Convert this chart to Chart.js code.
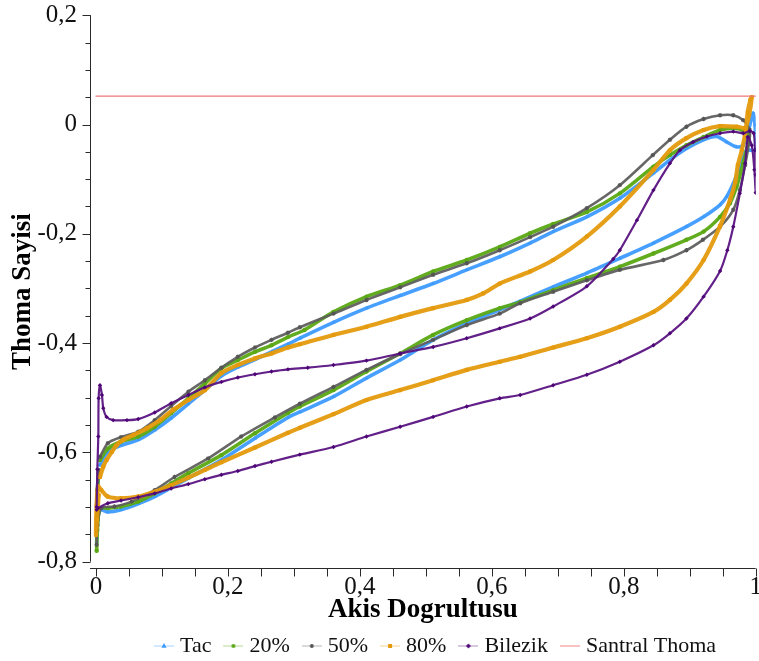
<!DOCTYPE html>
<html>
<head>
<meta charset="utf-8">
<script src="https://cdn.jsdelivr.net/npm/chart.js@4.4.1/dist/chart.umd.min.js"></script>
<style>
  html, body { margin: 0; padding: 0; background: #ffffff; }
  canvas { display: block; }
</style>
</head>
<body>
<canvas id="chart" width="759" height="661"></canvas>
<script>
// Series labels and axis tick values
const seriesNames = ['Tac', '20%', '50%', '80%', 'Bilezik', 'Santral Thoma'];
const xTicks = [0, 0.2, 0.4, 0.6, 0.8, 1];
const yTicks = [0.2, 0, -0.2, -0.4, -0.6, -0.8];

// Each blade section: upper side from leading to trailing edge, lower side back again
const tacUpper = [[0.006,-0.623],[0.018,-0.599],[0.038,-0.587],[0.064,-0.577],[0.089,-0.559],[0.114,-0.537],[0.140,-0.511],[0.165,-0.486],[0.190,-0.460],[0.215,-0.444],[0.241,-0.430],[0.266,-0.416],[0.291,-0.402],[0.309,-0.391],[0.360,-0.362],[0.410,-0.336],[0.461,-0.313],[0.511,-0.291],[0.562,-0.266],[0.612,-0.242],[0.658,-0.217],[0.693,-0.196],[0.744,-0.169],[0.794,-0.135],[0.845,-0.089],[0.870,-0.065],[0.895,-0.044],[0.921,-0.028],[0.941,-0.022],[0.956,-0.032],[0.971,-0.041],[0.981,-0.038],[0.990,-0.006],[0.996,0.021],[0.999,-0.001],[1.000,-0.047]];
const tacLower = [[0.986,-0.047],[0.976,-0.077],[0.966,-0.108],[0.956,-0.132],[0.946,-0.147],[0.921,-0.169],[0.895,-0.187],[0.845,-0.217],[0.794,-0.245],[0.744,-0.272],[0.693,-0.297],[0.643,-0.323],[0.612,-0.339],[0.562,-0.364],[0.511,-0.394],[0.461,-0.431],[0.410,-0.464],[0.360,-0.498],[0.309,-0.526],[0.291,-0.536],[0.241,-0.574],[0.190,-0.614],[0.140,-0.647],[0.089,-0.681],[0.064,-0.694],[0.038,-0.705],[0.018,-0.709],[0.006,-0.705],[0.002,-0.733],[0.001,-0.763],[0.0015,-0.723],[0.002,-0.669],[0.004,-0.636]];

const p20Upper = [[0.006,-0.614],[0.018,-0.593],[0.038,-0.580],[0.064,-0.571],[0.089,-0.553],[0.114,-0.528],[0.140,-0.501],[0.165,-0.474],[0.190,-0.446],[0.215,-0.431],[0.241,-0.416],[0.266,-0.404],[0.291,-0.389],[0.316,-0.376],[0.360,-0.343],[0.410,-0.315],[0.461,-0.294],[0.511,-0.269],[0.562,-0.248],[0.612,-0.224],[0.658,-0.199],[0.693,-0.182],[0.744,-0.160],[0.794,-0.126],[0.845,-0.077],[0.870,-0.056],[0.895,-0.038],[0.921,-0.023],[0.946,-0.010],[0.971,-0.007],[0.984,-0.014],[0.990,-0.021]];
const p20Lower = [[0.989,-0.032],[0.981,-0.071],[0.971,-0.114],[0.961,-0.144],[0.946,-0.169],[0.921,-0.196],[0.895,-0.211],[0.845,-0.236],[0.794,-0.260],[0.744,-0.281],[0.693,-0.303],[0.643,-0.325],[0.612,-0.336],[0.562,-0.358],[0.511,-0.385],[0.461,-0.419],[0.410,-0.452],[0.360,-0.486],[0.309,-0.516],[0.291,-0.528],[0.241,-0.565],[0.190,-0.605],[0.140,-0.638],[0.114,-0.657],[0.089,-0.675],[0.064,-0.690],[0.038,-0.699],[0.018,-0.702],[0.006,-0.702],[0.002,-0.742],[0.001,-0.780],[0.0015,-0.733],[0.002,-0.678],[0.004,-0.637]];

const p50Upper = [[0.006,-0.608],[0.018,-0.583],[0.038,-0.572],[0.064,-0.562],[0.089,-0.541],[0.114,-0.515],[0.140,-0.489],[0.165,-0.468],[0.190,-0.445],[0.215,-0.425],[0.241,-0.408],[0.266,-0.394],[0.291,-0.381],[0.309,-0.371],[0.360,-0.346],[0.410,-0.321],[0.461,-0.298],[0.511,-0.275],[0.562,-0.254],[0.612,-0.230],[0.658,-0.206],[0.693,-0.187],[0.744,-0.153],[0.794,-0.111],[0.844,-0.056],[0.870,-0.028],[0.895,-0.004],[0.921,0.010],[0.946,0.017],[0.966,0.017],[0.981,0.008],[0.991,-0.010]];
const p50Lower = [[0.990,-0.032],[0.984,-0.074],[0.976,-0.120],[0.966,-0.156],[0.946,-0.187],[0.920,-0.211],[0.895,-0.230],[0.860,-0.248],[0.794,-0.266],[0.744,-0.285],[0.693,-0.306],[0.643,-0.327],[0.612,-0.346],[0.562,-0.367],[0.511,-0.394],[0.461,-0.420],[0.410,-0.449],[0.360,-0.480],[0.309,-0.511],[0.271,-0.536],[0.220,-0.571],[0.170,-0.611],[0.119,-0.645],[0.089,-0.669],[0.054,-0.690],[0.028,-0.699],[0.008,-0.702],[0.002,-0.733],[0.001,-0.769],[0.0015,-0.723],[0.002,-0.669],[0.004,-0.632]];

const p80Upper = [[0.006,-0.645],[0.011,-0.626],[0.016,-0.614],[0.024,-0.599],[0.031,-0.587],[0.041,-0.577],[0.057,-0.568],[0.077,-0.556],[0.097,-0.541],[0.117,-0.522],[0.140,-0.504],[0.165,-0.486],[0.190,-0.455],[0.215,-0.440],[0.241,-0.428],[0.266,-0.419],[0.291,-0.408],[0.309,-0.402],[0.360,-0.385],[0.410,-0.370],[0.461,-0.352],[0.511,-0.336],[0.562,-0.321],[0.587,-0.309],[0.612,-0.291],[0.658,-0.269],[0.693,-0.248],[0.744,-0.205],[0.794,-0.150],[0.845,-0.083],[0.870,-0.047],[0.895,-0.025],[0.921,-0.010],[0.946,-0.003],[0.971,-0.004],[0.984,-0.006],[0.990,0.017],[0.994,0.050]];
const p80Lower = [[0.992,0.045],[0.988,0.023],[0.985,-0.010],[0.979,-0.047],[0.973,-0.074],[0.969,-0.105],[0.961,-0.138],[0.946,-0.186],[0.921,-0.248],[0.895,-0.291],[0.870,-0.321],[0.845,-0.343],[0.794,-0.370],[0.744,-0.391],[0.693,-0.408],[0.643,-0.425],[0.612,-0.434],[0.562,-0.449],[0.511,-0.468],[0.461,-0.486],[0.410,-0.504],[0.360,-0.530],[0.309,-0.555],[0.291,-0.564],[0.241,-0.591],[0.190,-0.618],[0.165,-0.632],[0.140,-0.646],[0.114,-0.660],[0.089,-0.672],[0.064,-0.681],[0.038,-0.684],[0.018,-0.681],[0.008,-0.669],[0.003,-0.662],[0.001,-0.696],[0.000,-0.751],[0.0015,-0.723],[0.004,-0.678]];

const bilezikUpper = [[0.001,-0.700],[0.002,-0.631],[0.0035,-0.571],[0.004,-0.501],[0.006,-0.477],[0.009,-0.495],[0.011,-0.519],[0.016,-0.535],[0.026,-0.541],[0.047,-0.541],[0.064,-0.539],[0.089,-0.527],[0.114,-0.510],[0.140,-0.495],[0.165,-0.481],[0.190,-0.471],[0.215,-0.463],[0.241,-0.457],[0.266,-0.452],[0.291,-0.448],[0.321,-0.445],[0.360,-0.440],[0.410,-0.432],[0.461,-0.419],[0.511,-0.407],[0.562,-0.391],[0.612,-0.373],[0.658,-0.355],[0.693,-0.333],[0.744,-0.296],[0.784,-0.246],[0.794,-0.230],[0.820,-0.175],[0.845,-0.120],[0.870,-0.071],[0.885,-0.047],[0.905,-0.032],[0.926,-0.022],[0.946,-0.016],[0.966,-0.013],[0.981,-0.016],[0.991,-0.012],[0.997,-0.016],[0.999,-0.047],[1.000,-0.092],[1.000,-0.125],[0.998,-0.083],[0.994,-0.038]];
const bilezikLower = [[0.988,-0.023],[0.984,-0.071],[0.976,-0.126],[0.966,-0.187],[0.957,-0.230],[0.946,-0.268],[0.921,-0.315],[0.895,-0.355],[0.870,-0.382],[0.845,-0.404],[0.794,-0.434],[0.744,-0.458],[0.693,-0.477],[0.643,-0.495],[0.612,-0.501],[0.562,-0.516],[0.511,-0.535],[0.461,-0.553],[0.410,-0.571],[0.360,-0.590],[0.309,-0.604],[0.266,-0.617],[0.241,-0.625],[0.215,-0.634],[0.190,-0.641],[0.165,-0.649],[0.140,-0.658],[0.114,-0.666],[0.089,-0.675],[0.064,-0.682],[0.038,-0.688],[0.018,-0.693],[0.003,-0.702],[0.001,-0.705]];

const santralThoma = [[0, 0.052], [1, 0.052]];

const fontFamily = "'Liberation Serif', 'Times New Roman', Times, serif";
const toPoints = arr => arr.map(([x, y]) => ({ x, y }));
const fmtTick = v => (v === 0 ? '0' : String(Math.round(v * 10) / 10).replace('.', ','));

// Series appearance
const styles = [
  { color: '#3d9bff', line: 'rgba(61,155,255,0.95)', width: 3.6, point: 'triangle', radius: 2.4 },
  { color: '#5aa814', line: 'rgba(90,168,20,0.95)', width: 3.6, point: 'circle', radius: 2.2 },
  { color: '#555555', line: 'rgba(95,95,95,0.95)', width: 2.6, point: 'star', radius: 2.2 },
  { color: '#e49a0c', line: 'rgba(228,154,12,0.95)', width: 4.2, point: 'rectRounded', radius: 2.4 },
  { color: '#4e0677', line: 'rgba(90,20,130,0.95)', width: 2.2, point: 'rectRot', radius: 2.2 },
  { color: '#f07878', line: '#f07878', width: 1.4, point: false, radius: 0 }
];

const seriesData = [
  tacUpper.concat(tacLower),
  p20Upper.concat(p20Lower),
  p50Upper.concat(p50Lower),
  p80Upper.concat(p80Lower),
  bilezikUpper.concat(bilezikLower),
  santralThoma
];

const datasets = seriesData.map((d, i) => ({
  label: seriesNames[i],
  data: toPoints(d),
  showLine: true,
  borderColor: styles[i].line,
  borderWidth: styles[i].width,
  borderJoinStyle: 'round',
  borderCapStyle: 'round',
  tension: i === 5 ? 0 : 0.25,
  pointStyle: styles[i].point,
  pointRadius: styles[i].radius,
  pointBackgroundColor: styles[i].color,
  pointBorderColor: styles[i].color,
  pointBorderWidth: styles[i].point === 'star' ? 1.1 : 0,
  pointHoverRadius: styles[i].radius,
  order: 5 - i
}));

// Small legend icons: faint line with the series marker in the middle
function legendIcon(i) {
  const c = document.createElement('canvas');
  c.width = 20; c.height = 12;
  const g = c.getContext('2d');
  const s = styles[i];
  g.globalAlpha = i === 5 ? 0.45 : 0.22;
  g.strokeStyle = s.color;
  g.lineWidth = 2;
  g.beginPath(); g.moveTo(0, 6); g.lineTo(20, 6); g.stroke();
  g.globalAlpha = 1;
  g.fillStyle = s.color; g.strokeStyle = s.color;
  g.beginPath();
  if (s.point === 'triangle') { g.moveTo(10, 3); g.lineTo(12.6, 7.8); g.lineTo(7.4, 7.8); g.closePath(); g.fill(); }
  else if (s.point === 'circle') { g.arc(10, 6, 2, 0, Math.PI * 2); g.fill(); }
  else if (s.point === 'star') { g.lineWidth = 1.2; g.moveTo(8, 6); g.lineTo(12, 6); g.moveTo(10, 4); g.lineTo(10, 8); g.moveTo(8.6, 4.6); g.lineTo(11.4, 7.4); g.moveTo(11.4, 4.6); g.lineTo(8.6, 7.4); g.stroke(); }
  else if (s.point === 'rectRounded') { g.fillRect(8, 4, 4, 4); }
  else if (s.point === 'rectRot') { g.moveTo(10, 3.6); g.lineTo(12.4, 6); g.lineTo(10, 8.4); g.lineTo(7.6, 6); g.closePath(); g.fill(); }
  return c;
}

// Axis lines with major and minor tick marks
const axisLines = {
  id: 'axisLines',
  afterDraw(chart) {
    const { ctx, chartArea, scales: { x, y } } = chart;
    ctx.save();
    ctx.strokeStyle = '#2a2a2a';
    ctx.lineWidth = 1;
    const ax = Math.round(chartArea.left) + 0.5;
    const ay = Math.round(chartArea.bottom) + 0.5;
    const yTop = y.getPixelForValue(yTicks[0]);
    const yBot = y.getPixelForValue(yTicks[yTicks.length - 1]);
    ctx.beginPath();
    ctx.moveTo(ax, yTop); ctx.lineTo(ax, yBot);
    ctx.moveTo(chartArea.left, ay); ctx.lineTo(x.getPixelForValue(1), ay);
    for (let k = 0; k <= 20; k++) {
      const v = k * 0.05;
      const px = Math.round(x.getPixelForValue(v)) + 0.5;
      ctx.moveTo(px, ay); ctx.lineTo(px, ay + 8);
    }
    for (let k = 0; k <= 20; k++) {
      const v = 0.2 - k * 0.05;
      const py = Math.round(y.getPixelForValue(v)) + 0.5;
      const len = k % 4 === 0 ? 8 : 5;
      ctx.moveTo(ax, py); ctx.lineTo(ax - len, py);
    }
    ctx.stroke();
    ctx.restore();
  }
};

// Legend row starts under the plot rather than at the page edge
const legendRow = {
  id: 'legendRow',
  afterLayout(chart) {
    const lg = chart.legend;
    if (lg) { lg.left = 142; }
  }
};

new Chart(document.getElementById('chart'), {
  type: 'scatter',
  data: { datasets },
  options: {
    responsive: false,
    animation: false,
    devicePixelRatio: 1,
    layout: { padding: { left: 0, right: 3.3, top: 15.2, bottom: -6 } },
    scales: {
      x: {
        type: 'linear',
        min: -0.0091,
        max: 1,
        afterBuildTicks: s => { s.ticks = xTicks.map(v => ({ value: v })); },
        afterFit: s => { s.height = 50; s.paddingLeft = 0; s.paddingRight = 0; },
        grid: { display: false, drawTicks: false },
        border: { display: false },
        ticks: { padding: 4, autoSkip: false, maxRotation: 0, color: '#111', font: { family: fontFamily, size: 25 }, callback: v => fmtTick(v) },
        title: { display: true, text: 'Akis Dogrultusu', color: '#000', padding: 0, font: { family: fontFamily, size: 27, weight: 'bold', lineHeight: 0.6 } }
      },
      y: {
        type: 'linear',
        min: -0.8115,
        max: 0.2,
        afterBuildTicks: s => { s.ticks = yTicks.map(v => ({ value: v })); },
        afterFit: s => { s.width = 90; s.paddingTop = 0; s.paddingBottom = 0; },
        grid: { display: false, drawTicks: false },
        border: { display: false },
        ticks: { padding: 13, autoSkip: false, color: '#111', font: { family: fontFamily, size: 25 }, callback: v => fmtTick(v) },
        title: { display: true, text: 'Thoma Sayisi', color: '#000', padding: { top: 7, bottom: 0 }, font: { family: fontFamily, size: 27, weight: 'bold' } }
      }
    },
    plugins: {
      tooltip: { enabled: false },
      legend: {
        display: true,
        position: 'bottom',
        align: 'start',
        labels: {
          usePointStyle: true,
          pointStyleWidth: 10,
          padding: 17,
          color: '#111',
          font: { family: fontFamily, size: 22 },
          generateLabels: chart => chart.data.datasets.map((ds, i) => ({
            text: ds.label,
            pointStyle: legendIcon(i),
            fillStyle: 'rgba(0,0,0,0)',
            strokeStyle: 'rgba(0,0,0,0)',
            lineWidth: 0,
            hidden: false,
            datasetIndex: i,
            fontColor: '#111'
          }))
        }
      }
    }
  },
  plugins: [axisLines, legendRow]
});
</script>
</body>
</html>
